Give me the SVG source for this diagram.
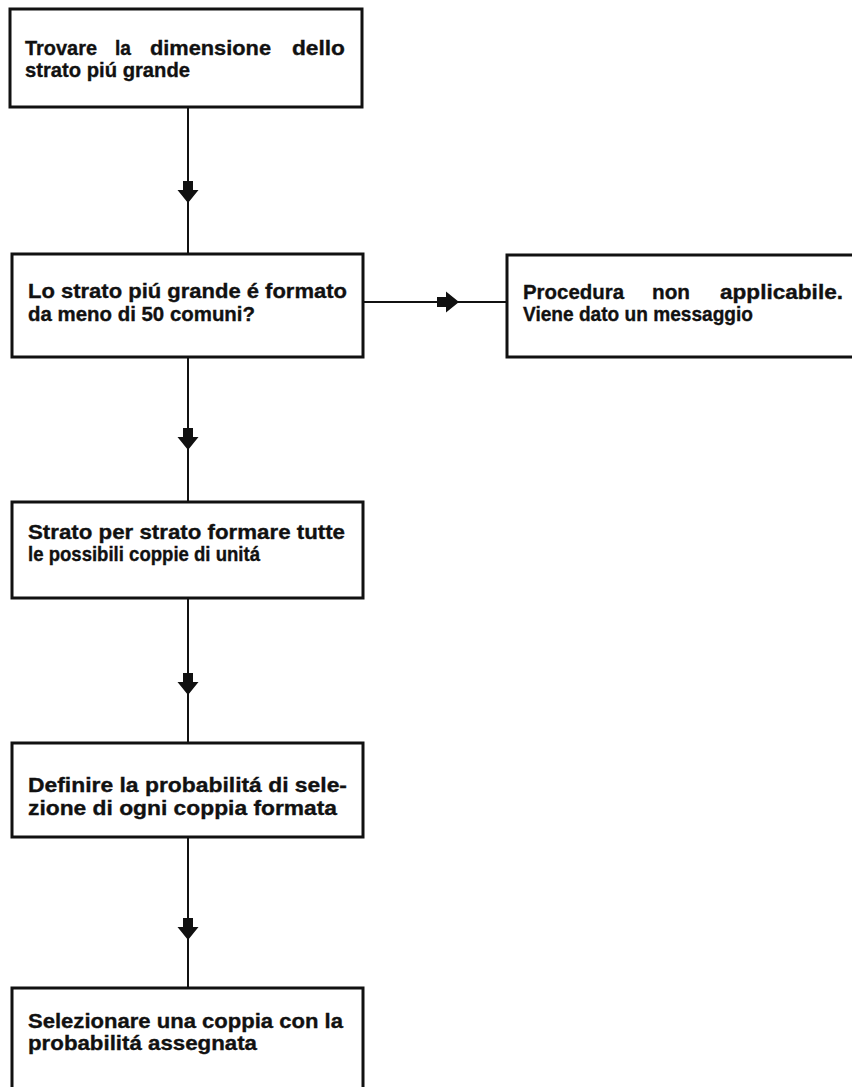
<svg xmlns="http://www.w3.org/2000/svg" width="852" height="1087" viewBox="0 0 852 1087">
  <style>
    .box { fill: #ffffff; stroke: #111111; stroke-width: 3; }
    .lbl { font-family: "Liberation Sans", Arial, sans-serif; font-weight: bold; font-size: 20.5px; fill: #111111; stroke: #111111; stroke-width: 0.35; }
    .wire { stroke: #111111; stroke-width: 2; fill: none; }
    .head { fill: #111111; stroke: none; }
  </style>
  <defs>
    <!-- block arrowhead pointing down, centred on x=0, tip at y=0 -->
    <path id="downHead" d="M-5,-22 L5,-22 L5,-13 L10.5,-13 L0,0 L-10.5,-13 L-5,-13 Z"/>
    <!-- block arrowhead pointing right, tip at x=0 -->
    <path id="rightHead" d="M-22,-5 L-22,5 L-13,5 L-13,10.5 L0,0 L-13,-10.5 L-13,-5 Z"/>
  </defs>
  <rect width="852" height="1087" fill="#ffffff"/>

  <g id="connectors">
    <line class="wire" x1="188" y1="107" x2="188" y2="254"/>
    <use href="#downHead" class="head" x="188" y="203"/>
    <line class="wire" x1="188" y1="357" x2="188" y2="502"/>
    <use href="#downHead" class="head" x="188" y="450"/>
    <line class="wire" x1="188" y1="598" x2="188" y2="743"/>
    <use href="#downHead" class="head" x="188" y="695"/>
    <line class="wire" x1="188" y1="837" x2="188" y2="988"/>
    <use href="#downHead" class="head" x="188" y="940"/>
    <line class="wire" x1="363" y1="302" x2="507" y2="302"/>
    <use href="#rightHead" class="head" x="459" y="302"/>
  </g>

  <g id="node-dimensione">
    <rect class="box" x="10" y="9" width="352" height="98"/>
    <text class="lbl" y="55">
      <tspan x="25" textLength="72" lengthAdjust="spacingAndGlyphs">Trovare</tspan>
      <tspan x="115" textLength="16" lengthAdjust="spacingAndGlyphs">la</tspan>
      <tspan x="150" textLength="121" lengthAdjust="spacingAndGlyphs">dimensione</tspan>
      <tspan x="292" textLength="53" lengthAdjust="spacingAndGlyphs">dello</tspan>
    </text>
    <text class="lbl" x="25" y="77" textLength="165" lengthAdjust="spacingAndGlyphs">strato piú grande</text>
  </g>

  <g id="node-domanda">
    <rect class="box" x="12" y="254" width="351" height="103"/>
    <text class="lbl" x="28" y="298" textLength="319" lengthAdjust="spacingAndGlyphs">Lo strato piú grande é formato</text>
    <text class="lbl" x="28" y="321" textLength="227" lengthAdjust="spacingAndGlyphs">da meno di 50 comuni?</text>
  </g>

  <g id="node-messaggio">
    <rect class="box" x="507" y="255" width="350" height="102"/>
    <text class="lbl" y="299">
      <tspan x="523" textLength="101" lengthAdjust="spacingAndGlyphs">Procedura</tspan>
      <tspan x="652" textLength="38" lengthAdjust="spacingAndGlyphs">non</tspan>
      <tspan x="720" textLength="123" lengthAdjust="spacingAndGlyphs">applicabile.</tspan>
    </text>
    <text class="lbl" x="523" y="321" textLength="230" lengthAdjust="spacingAndGlyphs">Viene dato un messaggio</text>
  </g>

  <g id="node-coppie">
    <rect class="box" x="12" y="502" width="351" height="96"/>
    <text class="lbl" x="28" y="539" textLength="317" lengthAdjust="spacingAndGlyphs">Strato per strato formare tutte</text>
    <text class="lbl" x="28" y="561" textLength="232" lengthAdjust="spacingAndGlyphs">le possibili coppie di unitá</text>
  </g>

  <g id="node-probabilita">
    <rect class="box" x="12" y="743" width="351" height="94"/>
    <text class="lbl" x="28" y="792" textLength="319" lengthAdjust="spacingAndGlyphs">Definire la probabilitá di sele-</text>
    <text class="lbl" x="28" y="815" textLength="309" lengthAdjust="spacingAndGlyphs">zione di ogni coppia formata</text>
  </g>

  <g id="node-selezione">
    <rect class="box" x="12" y="988" width="351" height="110"/>
    <text class="lbl" x="28" y="1028" textLength="315" lengthAdjust="spacingAndGlyphs">Selezionare una coppia con la</text>
    <text class="lbl" x="28" y="1050" textLength="229" lengthAdjust="spacingAndGlyphs">probabilitá assegnata</text>
  </g>
</svg>
